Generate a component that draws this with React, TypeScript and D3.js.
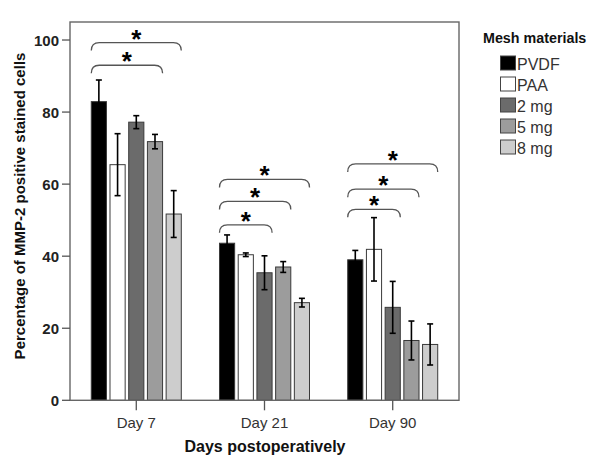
import React from "react";
import * as d3 from "d3";

const categories = ["Day 7", "Day 21", "Day 90"];
const seriesNames = ["PVDF", "PAA", "2 mg", "5 mg", "8 mg"];
const seriesColors = ["#000000", "#ffffff", "#6b6b6b", "#9c9c9c", "#cdcdcd"];

const pvdfMeans = [82.9, 43.6, 39.0];
const paaMeans = [65.4, 40.4, 41.9];
const mg2Means = [77.2, 35.4, 25.8];
const mg5Means = [71.8, 37.0, 16.6];
const mg8Means = [51.7, 27.1, 15.5];

const pvdfErr = [6.0, 2.3, 2.6];
const paaErr = [8.6, 0.5, 8.8];
const mg2Err = [1.8, 4.7, 7.2];
const mg5Err = [2.0, 1.5, 5.4];
const mg8Err = [6.5, 1.2, 5.7];

const yTicks = [0, 20, 40, 60, 80, 100];

// significance brackets: group, compared series, bracket height (in % units)
const bracketGroups = ["Day 7", "Day 7", "Day 21", "Day 21", "Day 21", "Day 90", "Day 90", "Day 90"];
const bracketTargets = ["5 mg", "8 mg", "2 mg", "5 mg", "8 mg", "2 mg", "5 mg", "8 mg"];
const bracketLevels = [93.0, 99.3, 48.7, 55.2, 61.3, 53.0, 58.6, 65.6];

const allMeans = [pvdfMeans, paaMeans, mg2Means, mg5Means, mg8Means];
const allErrs = [pvdfErr, paaErr, mg2Err, mg5Err, mg8Err];

const W = 600;
const H = 468;
const plotLeft = 70;
const plotRight = 459;
const plotTop = 22;
const plotBottom = 400.3;

export default function App() {
  const x0 = d3
    .scaleBand<string>()
    .domain(categories)
    .range([plotLeft, plotRight])
    .paddingInner(0.298)
    .paddingOuter(0.166);
  const x1 = d3
    .scaleBand<string>()
    .domain(seriesNames)
    .range([0, x0.bandwidth()])
    .paddingInner(0.19)
    .paddingOuter(0);
  const y = d3.scaleLinear().domain([0, 105]).range([plotBottom, plotTop]);

  const font = "'Liberation Sans', Arial, sans-serif";

  const bars: React.ReactNode[] = [];
  const errs: React.ReactNode[] = [];
  categories.forEach((cat, gi) => {
    seriesNames.forEach((s, si) => {
      const v = allMeans[si][gi];
      const e = allErrs[si][gi];
      const bx = (x0(cat) as number) + (x1(s) as number);
      const bw = x1.bandwidth();
      bars.push(
        <rect
          key={`b-${gi}-${si}`}
          x={bx}
          y={y(v)}
          width={bw}
          height={y(0) - y(v)}
          fill={seriesColors[si]}
          stroke="#3a3a3a"
          strokeWidth={1}
        />
      );
      const cx = bx + bw / 2;
      errs.push(
        <g key={`e-${gi}-${si}`} stroke="#000" strokeWidth={1.6}>
          <line x1={cx} x2={cx} y1={y(v + e)} y2={y(v - e)} />
          <line x1={cx - 3} x2={cx + 3} y1={y(v + e)} y2={y(v + e)} />
          <line x1={cx - 3} x2={cx + 3} y1={y(v - e)} y2={y(v - e)} />
        </g>
      );
    });
  });

  const brackets = bracketGroups.map((g, i) => {
    const gx = x0(g) as number;
    const xa = gx + (x1("PVDF") as number);
    const xb = gx + (x1(bracketTargets[i]) as number) + x1.bandwidth();
    const yy = y(bracketLevels[i]);
    const drop = 8;
    const path = `M${xa},${yy + drop} C${xa},${yy + 2} ${xa + 3},${yy} ${xa + 8},${yy} L${xb - 8},${yy} C${xb - 3},${yy} ${xb},${yy + 2} ${xb},${yy + drop}`;
    return (
      <g key={`br-${i}`}>
        <path d={path} fill="none" stroke="#555" strokeWidth={1.3} />
        <text
          x={(xa + xb) / 2}
          y={yy + 5}
          textAnchor="middle"
          fontFamily={font}
          fontWeight="bold"
          fontSize={26}
          fill="#000"
        >
          *
        </text>
      </g>
    );
  });

  return (
    <svg
      width={W}
      height={H}
      style={{ position: "absolute", left: 0, top: 0, background: "#fff" }}
    >
      <rect x={0} y={0} width={W} height={H} fill="#fff" />
      {bars}
      {errs}
      {brackets}
      <rect
        x={plotLeft}
        y={plotTop}
        width={plotRight - plotLeft}
        height={plotBottom - plotTop}
        fill="none"
        stroke="#666"
        strokeWidth={1.4}
      />
      {yTicks.map((t) => (
        <g key={`yt-${t}`}>
          <line x1={plotLeft - 8} x2={plotLeft} y1={y(t)} y2={y(t)} stroke="#555" strokeWidth={1.3} />
          <text
            x={plotLeft - 11}
            y={y(t) + 5.5}
            textAnchor="end"
            fontFamily={font}
            fontWeight="bold"
            fontSize={15}
            fill="#222"
          >
            {t}
          </text>
        </g>
      ))}
      {categories.map((c) => {
        const cx = (x0(c) as number) + x0.bandwidth() / 2;
        return (
          <g key={`xt-${c}`}>
            <line x1={cx} x2={cx} y1={plotBottom} y2={plotBottom + 10} stroke="#555" strokeWidth={1.3} />
            <text x={cx} y={428} textAnchor="middle" fontFamily={font} fontSize={15} fill="#333">
              {c}
            </text>
          </g>
        );
      })}
      <text
        x={265}
        y={452}
        textAnchor="middle"
        fontFamily={font}
        fontWeight="bold"
        fontSize={16}
        fill="#111"
      >
        Days postoperatively
      </text>
      <text
        transform={`translate(25,206) rotate(-90)`}
        textAnchor="middle"
        fontFamily={font}
        fontWeight="bold"
        fontSize={15}
        fill="#111"
      >
        Percentage of MMP-2 positive stained cells
      </text>
      <text x={483} y={43} fontFamily={font} fontWeight="bold" fontSize={14.3} fill="#111">
        Mesh materials
      </text>
      {seriesNames.map((s, i) => (
        <g key={`lg-${s}`}>
          <rect
            x={500.5}
            y={56 + i * 21}
            width={15}
            height={14}
            fill={seriesColors[i]}
            stroke="#444"
            strokeWidth={1}
          />
          <text x={517} y={69.5 + i * 21} fontFamily={font} fontSize={16} fill="#333">
            {s}
          </text>
        </g>
      ))}
    </svg>
  );
}
